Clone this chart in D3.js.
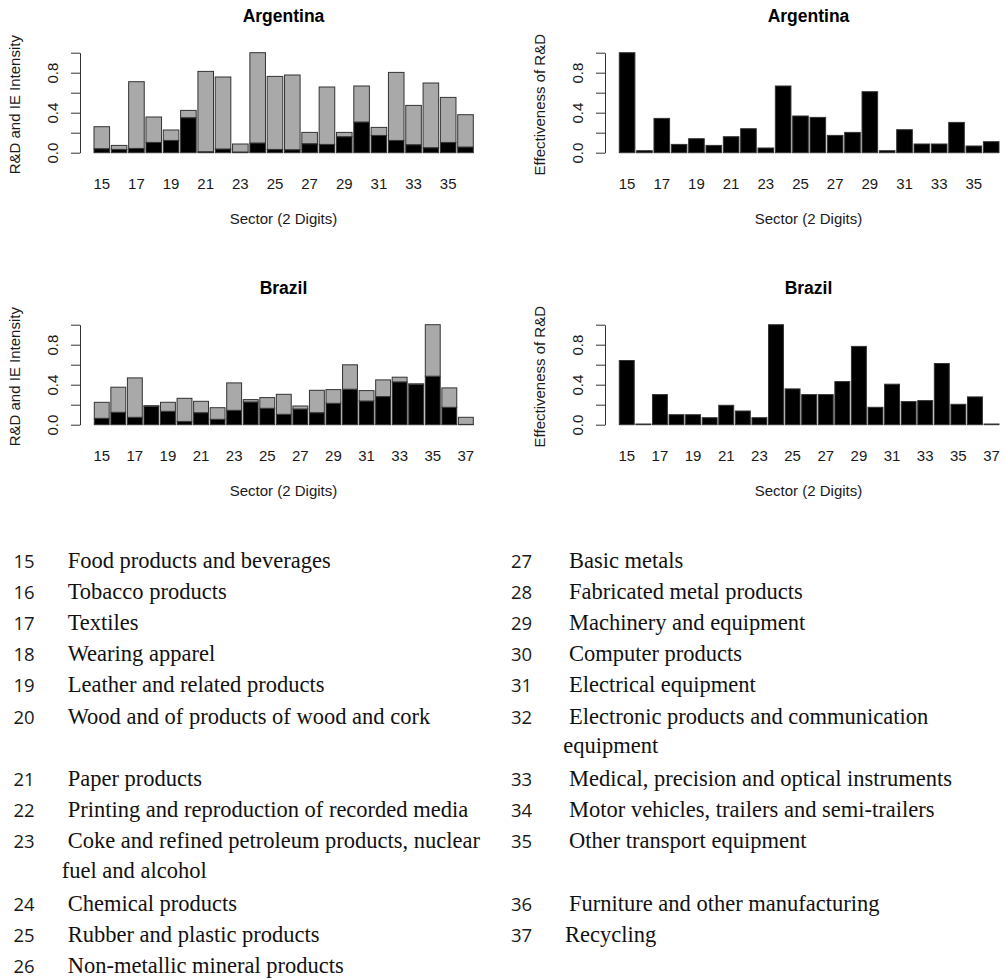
<!DOCTYPE html>
<html>
<head>
<meta charset="utf-8">
<script src="https://cdn.jsdelivr.net/npm/d3@7"></script>
<style>
  html, body { margin: 0; padding: 0; background: #fff; }
  svg { display: block; }
</style>
</head>
<body>
<svg id="chart" width="1005" height="980"></svg>
<script>
// ---------------- DATA ----------------
const argSectors = [15,16,17,18,19,20,21,22,23,24,25,26,27,28,29,30,31,32,33,34,35,36];
const braSectors = [15,16,17,18,19,20,21,22,23,24,25,26,27,28,29,30,31,32,33,34,35,36,37];

// R&D intensity (black segment) and IE intensity (grey segment, stacked on top)
const argRD = [0.040,0.033,0.043,0.103,0.123,0.350,0.010,0.037,0.007,0.097,0.033,0.030,0.090,0.083,0.160,0.307,0.173,0.123,0.080,0.050,0.103,0.057];
const argIE = [0.220,0.040,0.667,0.254,0.104,0.073,0.803,0.720,0.080,0.903,0.730,0.747,0.113,0.574,0.043,0.360,0.080,0.680,0.393,0.647,0.450,0.323];
const braRD = [0.064,0.124,0.074,0.184,0.134,0.033,0.120,0.054,0.144,0.227,0.164,0.104,0.157,0.120,0.214,0.355,0.237,0.281,0.428,0.405,0.485,0.174,0.003];
const braIE = [0.160,0.251,0.394,0.006,0.090,0.231,0.114,0.116,0.274,0.024,0.107,0.200,0.030,0.224,0.137,0.244,0.104,0.167,0.047,0.003,0.515,0.194,0.071];

// Effectiveness of R&D
const argEff = [1.000,0.020,0.343,0.083,0.140,0.073,0.160,0.240,0.047,0.667,0.367,0.353,0.173,0.203,0.610,0.020,0.230,0.087,0.087,0.303,0.067,0.110];
const braEff = [0.642,0.007,0.301,0.100,0.100,0.070,0.194,0.137,0.070,1.000,0.358,0.301,0.301,0.431,0.783,0.174,0.405,0.231,0.241,0.612,0.204,0.278,0.007];

const yTicks = [0, 0.2, 0.4, 0.6, 0.8, 1.0];
const yTickLabels = ["0.0", "", "0.4", "", "0.8", ""];

// Sector legend
const legendLeftCodes = [15,16,17,18,19,20,21,22,23,24,25,26];
const legendLeftNames = [
  ["Food products and beverages"],
  ["Tobacco products"],
  ["Textiles"],
  ["Wearing apparel"],
  ["Leather and related products"],
  ["Wood and of products of wood and cork"],
  ["Paper products"],
  ["Printing and reproduction of recorded media"],
  ["Coke and refined petroleum products, nuclear", "fuel and alcohol"],
  ["Chemical products"],
  ["Rubber and plastic products"],
  ["Non-metallic mineral products"]
];
const legendRightCodes = [27,28,29,30,31,32,33,34,35,36,37];
const legendRightNames = [
  ["Basic metals"],
  ["Fabricated metal products"],
  ["Machinery and equipment"],
  ["Computer products"],
  ["Electrical equipment"],
  ["Electronic products and communication", "equipment"],
  ["Medical, precision and optical instruments"],
  ["Motor vehicles, trailers and semi-trailers"],
  ["Other transport equipment"],
  ["Furniture and other manufacturing"],
  ["Recycling"]
];

// ---------------- DRAWING ----------------
const svg = d3.select("#chart");
const SANS = "'Liberation Sans', Arial, Helvetica, sans-serif";
const TXT = "#1a1a1a";
const GREY = "#a9a9a9";
const EDGE = "#333";

function panel(opt) {
  const g = svg.append("g");
  const y = d3.scaleLinear().domain([0, 1]).range([opt.zeroY, opt.topY]);
  const x = d3.scaleBand().domain(opt.sectors).range([opt.barX0, opt.barX1])
              .paddingInner(0.1).paddingOuter(0);

  // bars
  if (opt.stack) {
    const rows = opt.sectors.map((s, i) => ({sector: s, rd: opt.rd[i], ie: opt.ie[i]}));
    const series = d3.stack().keys(["rd", "ie"])(rows);
    const colors = {rd: "#000", ie: GREY};
    g.selectAll("g.ser").data(series).join("g")
      .attr("fill", d => colors[d.key])
      .selectAll("rect").data(d => d).join("rect")
        .attr("x", d => x(d.data.sector))
        .attr("width", x.bandwidth())
        .attr("y", d => y(d[1]))
        .attr("height", d => Math.max(0, y(d[0]) - y(d[1])))
        .attr("stroke", EDGE)
        .attr("stroke-width", 1);
  } else {
    g.selectAll("rect.eff").data(opt.sectors.map((s, i) => ({sector: s, v: opt.values[i]})))
      .join("rect")
        .attr("x", d => x(d.sector))
        .attr("width", x.bandwidth())
        .attr("y", d => y(d.v))
        .attr("height", d => y(0) - y(d.v))
        .attr("fill", "#000")
        .attr("stroke", EDGE)
        .attr("stroke-width", 1);
  }

  // y axis
  const ax = g.append("g").attr("transform", `translate(${opt.axisX},0)`)
    .call(d3.axisLeft(y).tickValues(yTicks).tickSize(9).tickSizeOuter(0)
      .tickFormat((d, i) => yTickLabels[i]));
  ax.select(".domain").attr("stroke", "#333");
  ax.selectAll(".tick line").attr("stroke", "#333");
  ax.selectAll(".tick text")
    .attr("transform", "rotate(-90)")
    .attr("x", 0).attr("y", -22).attr("dy", null)
    .attr("text-anchor", "middle")
    .attr("fill", TXT)
    .style("font-family", SANS).style("font-size", "15px");

  // x tick labels (every other sector)
  g.selectAll("text.xl").data(opt.sectors.filter(s => (s - 15) % 2 === 0))
    .join("text")
      .attr("x", d => x(d) + x.bandwidth() / 2)
      .attr("y", opt.zeroY + 36.5)
      .attr("text-anchor", "middle")
      .attr("fill", TXT)
      .style("font-family", SANS).style("font-size", "15px")
      .text(d => d);

  // title
  g.append("text").attr("x", opt.titleX).attr("y", opt.zeroY - 130.7)
    .attr("text-anchor", "middle").attr("fill", "#000")
    .style("font-family", SANS).style("font-size", "17.5px").style("font-weight", "bold")
    .text(opt.title);

  // x title
  g.append("text").attr("x", opt.titleX).attr("y", opt.zeroY + 71.5)
    .attr("text-anchor", "middle").attr("fill", TXT)
    .style("font-family", SANS).style("font-size", "15px")
    .text("Sector (2 Digits)");

  // y title
  g.append("text")
    .attr("transform", `translate(${opt.ylabX},${opt.zeroY - 48}) rotate(-90)`)
    .attr("text-anchor", "middle").attr("fill", TXT)
    .style("font-family", SANS).style("font-size", "15px")
    .text(opt.ylab);
}

const TOP0 = 152.7, BOT0 = 424.7;
panel({stack: true, sectors: argSectors, rd: argRD, ie: argIE, zeroY: TOP0, topY: TOP0 - 100,
       axisX: 80, barX0: 94, barX1: 473.3, titleX: 283.5, ylabX: 19.5,
       title: "Argentina", ylab: "R&D and IE Intensity"});
panel({stack: false, sectors: argSectors, values: argEff, zeroY: TOP0, topY: TOP0 - 100,
       axisX: 605, barX0: 619.3, barX1: 999, titleX: 808.5, ylabX: 545,
       title: "Argentina", ylab: "Effectiveness of R&D"});
panel({stack: true, sectors: braSectors, rd: braRD, ie: braIE, zeroY: BOT0, topY: BOT0 - 100,
       axisX: 80, barX0: 94.3, barX1: 473.3, titleX: 283.5, ylabX: 19.5,
       title: "Brazil", ylab: "R&D and IE Intensity"});
panel({stack: false, sectors: braSectors, values: braEff, zeroY: BOT0, topY: BOT0 - 100,
       axisX: 605, barX0: 619.3, barX1: 999, titleX: 808.5, ylabX: 545,
       title: "Brazil", ylab: "Effectiveness of R&D"});

// ---------------- LEGEND ----------------
const SERIF = "'Liberation Serif', 'Times New Roman', serif";
const NUMF = "'Open Sans', 'Noto Sans', sans-serif";
const LINE_H = 31.2, LEG_Y0 = 567.5;
const cols = [
  {codes: legendLeftCodes, names: legendLeftNames, numX: 13.5, textX: 67.7, contX: 61.7},
  {codes: legendRightCodes, names: legendRightNames, numX: 511, textX: 569, contX: 563.3}
];
const nRows = Math.max(legendLeftCodes.length, legendRightCodes.length);
const lg = svg.append("g");
let line = 0;
for (let r = 0; r < nRows; r++) {
  let maxLines = 1;
  cols.forEach(c => {
    if (r >= c.codes.length) return;
    const yb = LEG_Y0 + line * LINE_H;
    lg.append("text").attr("x", c.numX).attr("y", yb).attr("fill", "#1a1a1a")
      .style("font-family", NUMF).style("font-size", "18.5px")
      .text(c.codes[r]);
    c.names[r].forEach((t, k) => {
      lg.append("text")
        .attr("x", k === 0 ? (c.codes[r] === 37 ? c.textX - 4 : c.textX) : c.contX)
        .attr("y", yb + k * LINE_H - (k ? 2 : 0))
        .attr("fill", "#111")
        .style("font-family", SERIF).style("font-size", "22.5px")
        .text(t);
    });
    maxLines = Math.max(maxLines, c.names[r].length);
  });
  line += maxLines;
}
</script>
</body>
</html>
